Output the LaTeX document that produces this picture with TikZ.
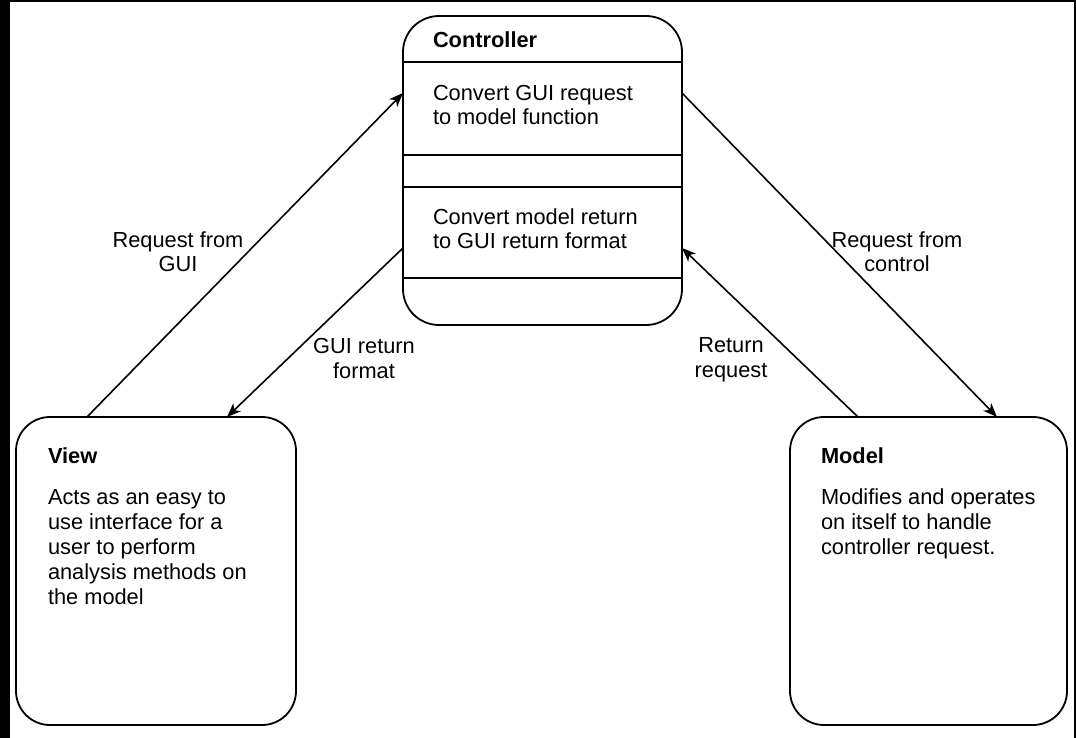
\documentclass[tikz,border=0pt]{standalone}
\usepackage{fontspec}
\setmainfont{Liberation Sans}
\usetikzlibrary{arrows.meta,calc}
\begin{document}
\begin{tikzpicture}[x=1pt,y=-1pt,
  every node/.style={inner sep=0pt,outer sep=0pt,font=\fontsize{21.8}{25}\selectfont},
  box/.style={draw=black,line width=1.8pt,fill=white},
  divider/.style={draw=black,line width=1.8pt},
  arr/.style={draw=black,line width=1.6pt,-{Stealth[length=14pt,width=11pt,inset=4pt]}},
  title/.style={anchor=base west,font=\fontsize{21.8}{25}\selectfont\bfseries},
  body/.style={anchor=base west,align=left,font=\fontsize{21.8}{24}\selectfont},
  bodywide/.style={anchor=base west,align=left,font=\fontsize{21.8}{25}\selectfont},
  elabel/.style={anchor=base,align=center,font=\fontsize{21.8}{24.5}\selectfont}]
\useasboundingbox (0,0) rectangle (1076,738);
\fill[white] (0,0) rectangle (1076,738);
\fill[black] (0,0) rectangle (10,738);
\fill[black] (0,0) rectangle (1076,2);
\fill[black] (1074,0) rectangle (1076,738);

% Controller
\node[box,rounded corners=36pt,minimum width=279pt,minimum height=309pt] (ctrl) at (542.5,170.5) {};
\draw[divider] ($(ctrl.north west)+(0,46)$) -- ($(ctrl.north east)+(0,46)$);
\draw[divider] ($(ctrl.north west)+(0,139)$) -- ($(ctrl.north east)+(0,139)$);
\draw[divider] ($(ctrl.north west)+(0,171)$) -- ($(ctrl.north east)+(0,171)$);
\draw[divider] ($(ctrl.north west)+(0,262)$) -- ($(ctrl.north east)+(0,262)$);
\node[title] (ctrltitle) at (433,48) {Controller};
\node[body] (ctrlA) at (433,125) {Convert GUI request\\to model function};
\node[body] (ctrlB) at (433,248) {Convert model return\\to GUI return format};

% View
\node[box,rounded corners=34pt,minimum width=280pt,minimum height=308pt] (view) at (156,571) {};
\node[title] (viewtitle) at (48,463) {View};
\node[bodywide] (viewtext) at (48,604) {Acts as an easy to\\use interface for a\\user to perform\\analysis methods on\\the model};

% Model
\node[box,rounded corners=34pt,minimum width=277pt,minimum height=308pt] (model) at (928.5,571) {};
\node[title] (modeltitle) at (821,463) {Model};
\node[bodywide] (modeltext) at (821,554) {Modifies and operates\\on itself to handle\\controller request.};

% Connectors
\draw[arr] ($(view.north west)+(71,0)$) -- ($(ctrl.north west)+(0,77)$);
\draw[arr] ($(ctrl.north west)+(0,232)$) -- ($(view.north west)+(211,0)$);
\draw[arr] ($(ctrl.north east)+(0,77)$) -- ($(model.north west)+(207,0)$);
\draw[arr] ($(model.north west)+(68,0)$) -- ($(ctrl.north east)+(0,232)$);

% Connector labels
\node[elabel] (l1) at (178,271.5) {Request from\\GUI};
\node[elabel] (l2) at (364,378) {GUI return\\format};
\node[elabel] (l3) at (897,271.5) {Request from\\control};
\node[elabel] (l4) at (731,377) {Return\\request};
\end{tikzpicture}
\end{document}
